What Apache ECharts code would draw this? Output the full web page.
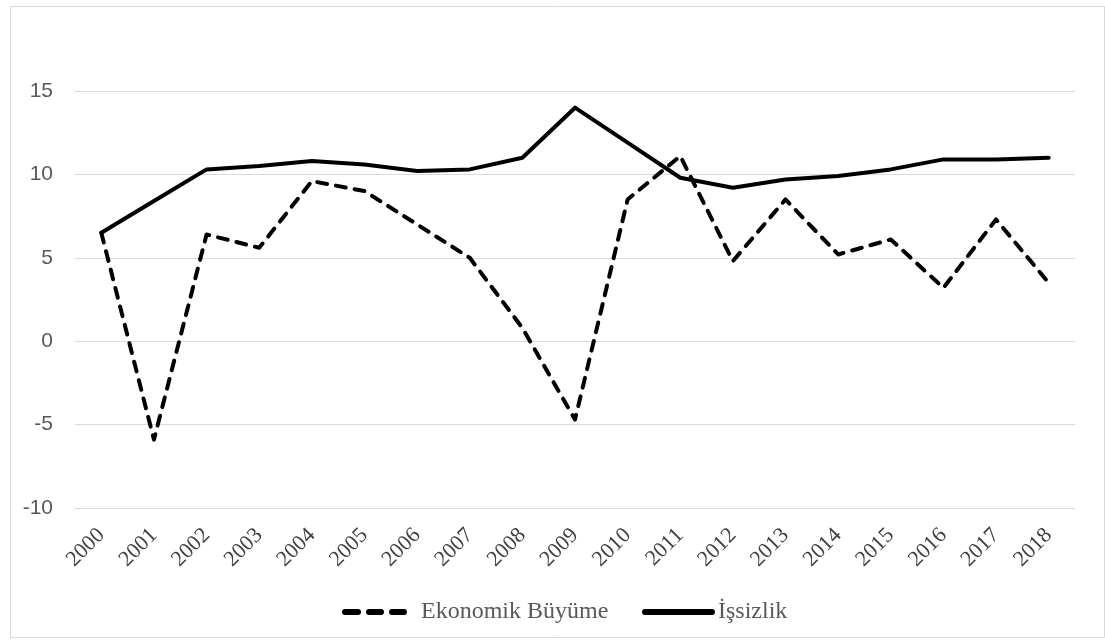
<!DOCTYPE html>
<html>
<head>
<meta charset="utf-8">
<script src="https://cdn.jsdelivr.net/npm/echarts@6/dist/echarts.min.js"></script>
<style>
html,body{margin:0;padding:0;background:#fff;}
#chart{width:1105px;height:640px;}
</style>
</head>
<body>
<div id="chart"></div>
<script>
const years = ['2000','2001','2002','2003','2004','2005','2006','2007','2008','2009','2010','2011','2012','2013','2014','2015','2016','2017','2018'];
const buyume = [6.5, -5.9, 6.4, 5.6, 9.6, 9.0, 7.0, 5.0, 0.8, -4.7, 8.5, 11.1, 4.8, 8.5, 5.2, 6.1, 3.2, 7.3, 3.5];
const issizlik = [6.5, 8.4, 10.3, 10.5, 10.8, 10.6, 10.2, 10.3, 11.0, 14.0, 11.9, 9.8, 9.2, 9.7, 9.9, 10.3, 10.9, 10.9, 11.0];
const seriesNames = ['Ekonomik Büyüme', 'İşsizlik'];
const yTicks = {min: -10, max: 15, interval: 5};

const dashIcon = 'path://M3,0H16A3,3,0,0,1,16,6H3A3,3,0,0,1,3,0Z M27,0H39A3,3,0,0,1,39,6H27A3,3,0,0,1,27,0Z M50,0H62A3,3,0,0,1,62,6H50A3,3,0,0,1,50,0Z';
const solidIcon = 'path://M3,0H70A3,3,0,0,1,70,6H3A3,3,0,0,1,3,0Z';

const SERIF = "'Liberation Serif', 'Times New Roman', 'DejaVu Serif', serif";
const SANS = "'Liberation Sans', Arial, sans-serif";

const chart = echarts.init(document.getElementById('chart'), null, {renderer: 'canvas'});
chart.setOption({
  animation: false,
  backgroundColor: '#ffffff',
  graphic: [{
    type: 'rect',
    left: 8, top: 4,
    shape: {width: 1094, height: 631},
    style: {fill: 'none', stroke: '#d9d9d9', lineWidth: 1},
    silent: true
  }],
  grid: {left: 75, right: 30, top: 91, bottom: 132, containLabel: false},
  xAxis: {
    type: 'category',
    data: years,
    boundaryGap: true,
    axisLine: {show: false},
    axisTick: {show: false},
    axisLabel: {
      rotate: 45,
      margin: 24,
      color: '#404040',
      fontFamily: SERIF,
      fontSize: 22,
      interval: 0
    },
    splitLine: {show: false}
  },
  yAxis: {
    type: 'value',
    min: yTicks.min, max: yTicks.max, interval: yTicks.interval,
    axisLine: {show: false},
    axisTick: {show: false},
    axisLabel: {
      margin: 22,
      color: '#595959',
      fontFamily: SANS,
      fontSize: 21
    },
    splitLine: {lineStyle: {color: '#d9d9d9', width: 1}}
  },
  legend: [
    {
      left: 337, top: 595,
      itemWidth: 65, itemHeight: 6,
      itemStyle: {color: '#000'},
      textStyle: {color: '#595959', fontFamily: SERIF, fontSize: 24, padding: [0, 0, 0, 9]},
      data: [{name: seriesNames[0], icon: dashIcon}],
      selectedMode: false
    },
    {
      left: 637, top: 595,
      itemWidth: 73, itemHeight: 6,
      itemStyle: {color: '#000'},
      textStyle: {color: '#595959', fontFamily: SERIF, fontSize: 24, padding: [0, 0, 0, -2]},
      data: [{name: seriesNames[1], icon: solidIcon}],
      selectedMode: false
    }
  ],
  series: [
    {
      name: seriesNames[0],
      type: 'line',
      data: buyume,
      symbol: 'none',
      lineStyle: {color: '#000', width: 4, type: [10, 9], cap: 'round', join: 'round'},
      itemStyle: {color: '#000'}
    },
    {
      name: seriesNames[1],
      type: 'line',
      data: issizlik,
      symbol: 'none',
      lineStyle: {color: '#000', width: 4, cap: 'round', join: 'round'},
      itemStyle: {color: '#000'}
    }
  ]
});
</script>
</body>
</html>
